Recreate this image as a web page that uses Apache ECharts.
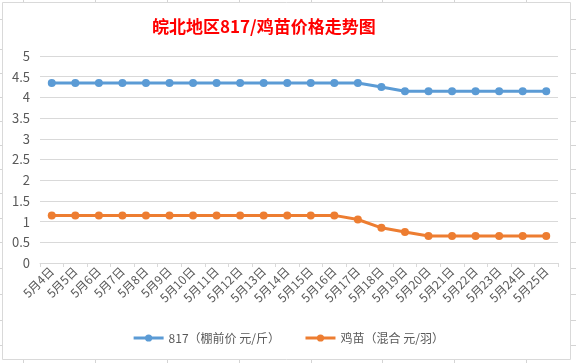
<!DOCTYPE html>
<html>
<head>
<meta charset="utf-8">
<script src="https://cdn.jsdelivr.net/npm/echarts@6/dist/echarts.min.js"></script>
<style>html,body{margin:0;padding:0;background:#fff;}#c{width:576px;height:363px;}</style>
</head>
<body>
<div id="c"></div>
<script>
const categories = ['5月4日','5月5日','5月6日','5月7日','5月8日','5月9日','5月10日','5月11日','5月12日','5月13日','5月14日','5月15日','5月16日','5月17日','5月18日','5月19日','5月20日','5月21日','5月22日','5月23日','5月24日','5月25日'];
const price817 = [4.35,4.35,4.35,4.35,4.35,4.35,4.35,4.35,4.35,4.35,4.35,4.35,4.35,4.35,4.25,4.15,4.15,4.15,4.15,4.15,4.15,4.15];
const priceChick = [1.15,1.15,1.15,1.15,1.15,1.15,1.15,1.15,1.15,1.15,1.15,1.15,1.15,1.05,0.85,0.75,0.65,0.65,0.65,0.65,0.65,0.65];
const seriesNames = ['817（棚前价 元/斤）','鸡苗（混合 元/羽）'];
const titleText = '皖北地区817/鸡苗价格走势图';

const chart = echarts.init(document.getElementById('c'), null, {renderer:'canvas'});
const font = '"Noto Sans CJK SC", "Noto Sans", sans-serif';
const cellCols = [23,95,167,239,311,382,454,526];
const cellRows = [19,49,73,97,121,145,169,193,218,242,268,294,320,345];
const gfx = [];
gfx.push({type:'rect', shape:{x:2.5,y:2.5,width:568,height:357}, style:{fill:'#fff', stroke:'#d9d9d9', lineWidth:1}, z:-10});
cellCols.forEach(x=>{
  gfx.push({type:'line', shape:{x1:x+0.5,y1:0,x2:x+0.5,y2:2}, style:{stroke:'#d4d4d4'}});
  gfx.push({type:'line', shape:{x1:x+0.5,y1:360,x2:x+0.5,y2:363}, style:{stroke:'#d4d4d4'}});
});
cellRows.forEach(y=>{
  gfx.push({type:'line', shape:{x1:0,y1:y+0.5,x2:2,y2:y+0.5}, style:{stroke:'#d4d4d4'}});
  gfx.push({type:'line', shape:{x1:571,y1:y+0.5,x2:576,y2:y+0.5}, style:{stroke:'#d4d4d4'}});
});

chart.setOption({
  backgroundColor:'#fff',
  animation:false,
  graphic: gfx,
  title:{
    text:titleText, left:147, top:13,
    textStyle:{color:'#FF0000', fontSize:17, fontWeight:'bold', fontFamily:font}
  },
  legend:{
    bottom:14, left:'center',
    itemWidth:30, itemHeight:9, itemGap:24,
    lineStyle:{width:3},
    textStyle:{color:'#595959', fontSize:12, fontFamily:font},
    data:seriesNames
  },
  grid:{left:40, right:18, top:56, bottom:100, containLabel:false},
  xAxis:{
    type:'category', data:categories, boundaryGap:true,
    axisLine:{lineStyle:{color:'#d9d9d9', width:1}},
    axisTick:{show:true, length:4, lineStyle:{color:'#d9d9d9'}},
    axisLabel:{rotate:45, color:'#595959', fontSize:12, fontFamily:font, margin:6, interval:0}
  },
  yAxis:{
    type:'value', min:0, max:5, interval:0.5,
    axisLine:{show:false}, axisTick:{show:false},
    axisLabel:{color:'#595959', fontSize:13, fontFamily:font, margin:10},
    splitLine:{lineStyle:{color:'#d9d9d9', width:1}}
  },
  series:[
    {name:seriesNames[0], type:'line', data:price817, symbol:'circle', symbolSize:8,
     lineStyle:{color:'#5B9BD5', width:3}, itemStyle:{color:'#5B9BD5'}},
    {name:seriesNames[1], type:'line', data:priceChick, symbol:'circle', symbolSize:8,
     lineStyle:{color:'#ED7D31', width:3}, itemStyle:{color:'#ED7D31'}}
  ]
});
</script>
</body>
</html>
